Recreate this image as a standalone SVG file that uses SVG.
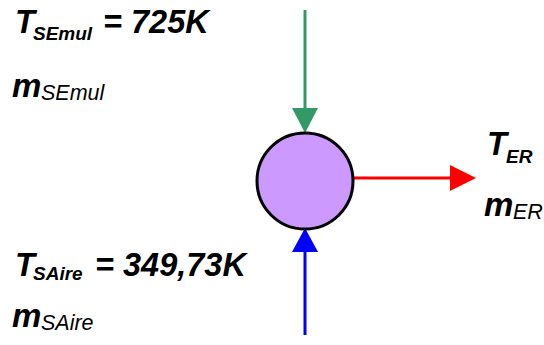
<svg xmlns="http://www.w3.org/2000/svg" width="544" height="345" viewBox="0 0 544 345">
<style>
text{font-family:"Liberation Sans",Arial,sans-serif;font-style:italic;fill:#000}
.big{font-size:32.5px;font-weight:bold}
.mm{font-size:33px;font-weight:bold}
.sb{font-size:19px;font-weight:bold}
.sr{font-size:21.5px;font-weight:normal}
</style>
<rect width="544" height="345" fill="#fff"/>
<g id="connectors">
<line x1="305" y1="10" x2="305" y2="110" stroke="#339966" stroke-width="3"/>
<polygon points="292,108 318,108 305,133" fill="#339966"/>
<line x1="305" y1="335" x2="305" y2="250" stroke="#0000ff" stroke-width="3"/>
<polygon points="292,252 318,252 305,228" fill="#0000ff"/>
<line x1="353" y1="178" x2="452" y2="178" stroke="#ff0000" stroke-width="3"/>
<polygon points="450,165 450,191 476,178" fill="#ff0000"/>
</g>
<g id="node">
<circle cx="305" cy="181" r="48" fill="#cc99ff" stroke="#000" stroke-width="3"/>
</g>
<g id="label-semul">
<text x="15" y="33" class="big">T</text>
<text x="33" y="39.5" class="sb">SEmul</text>
<text x="103" y="33" class="big">= 725K</text>
<text x="12" y="97" class="mm">m</text>
<text x="41" y="100" class="sr">SEmul</text>
</g>
<g id="label-saire">
<text x="15" y="276" class="big">T</text>
<text x="33" y="280" class="sb">SAire</text>
<text x="95" y="276" class="big">= 349,73K</text>
<text x="12" y="327" class="mm">m</text>
<text x="41" y="330" class="sr">SAire</text>
</g>
<g id="label-er">
<text x="487" y="155" class="big">T</text>
<text x="506" y="163" class="sb">ER</text>
<text x="484" y="216" class="mm">m</text>
<text x="513" y="219" class="sr">ER</text>
</g>
</svg>
